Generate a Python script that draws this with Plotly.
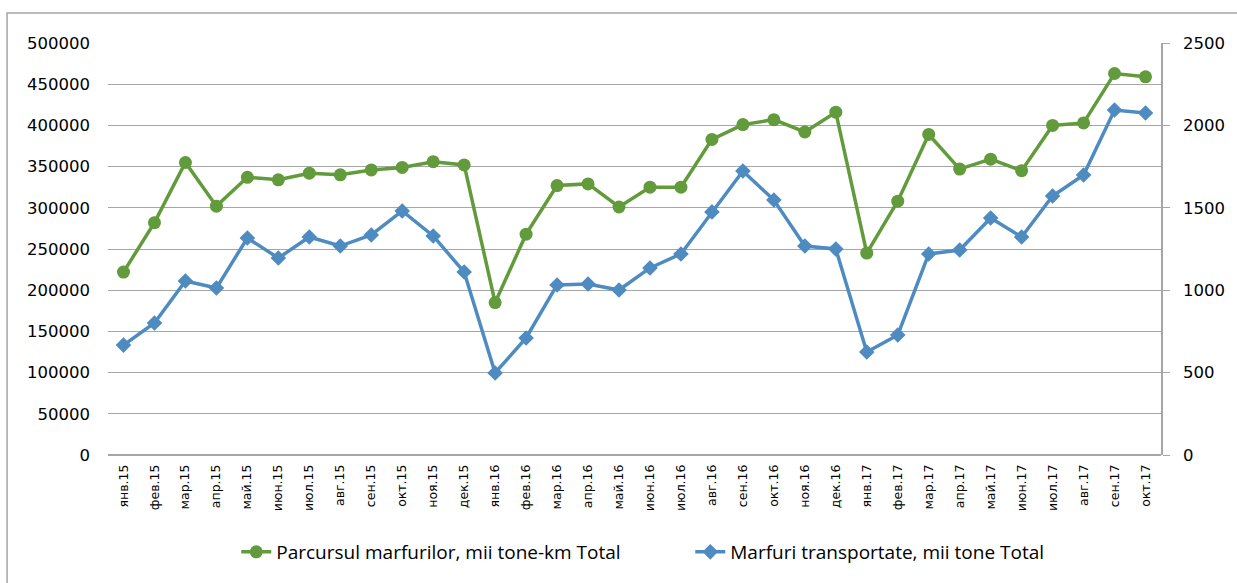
import plotly.graph_objects as go

months = ["янв.15","фев.15","мар.15","апр.15","май.15","июн.15","июл.15","авг.15","сен.15","окт.15","ноя.15","дек.15",
          "янв.16","фев.16","мар.16","апр.16","май.16","июн.16","июл.16","авг.16","сен.16","окт.16","ноя.16","дек.16",
          "янв.17","фев.17","мар.17","апр.17","май.17","июн.17","июл.17","авг.17","сен.17","окт.17"]

parcursul = [222000, 282000, 355000, 302000, 337000, 334000, 342000, 340000, 346000, 349000, 356000, 352000,
             185000, 268000, 327000, 329000, 301000, 325000, 325000, 383000, 401000, 407000, 392000, 416000,
             245000, 308000, 389000, 347000, 359000, 345000, 400000, 403000, 463000, 459000]

marfuri = [667, 801, 1056, 1013, 1317, 1195, 1323, 1268, 1335, 1481, 1329, 1110,
           498, 710, 1032, 1038, 1001, 1135, 1220, 1475, 1723, 1547, 1268, 1250,
           625, 728, 1220, 1244, 1438, 1323, 1572, 1699, 2093, 2075]

left_ticks = list(range(0, 500001, 50000))
right_ticks = list(range(0, 2501, 500))

GREEN = "#629B3C"
BLUE = "#4E8BC1"
GRID = "#A6A6A6"

W, H = 1237, 583
L, R, T, B = 108, 1167, 43, 455  # plot area in page pixels
PW, PH = R - L, B - T

def px(x):
    return (x - L) / PW

def py(y):
    return (B - y) / PH

fig = go.Figure()
fig.add_trace(go.Scatter(
    x=months, y=parcursul, name="Parcursul marfurilor, mii tone-km Total",
    mode="lines+markers", line=dict(color=GREEN, width=3.5),
    marker=dict(symbol="circle", size=13, color=GREEN), yaxis="y"))
fig.add_trace(go.Scatter(
    x=months, y=marfuri, name="Marfuri transportate, mii tone Total",
    mode="lines+markers", line=dict(color=BLUE, width=3.5),
    marker=dict(symbol="diamond", size=12, color=BLUE), yaxis="y2"))

fig.update_layout(
    width=W, height=H,
    margin=dict(l=L, r=W - R, t=T, b=H - B),
    paper_bgcolor="white", plot_bgcolor="white",
    font=dict(family="DejaVu Sans", color="#000000"),
    showlegend=True,
    legend=dict(orientation="h", x=px(237), xanchor="left", y=py(552), yanchor="middle",
                font=dict(family="Open Sans, Liberation Sans", size=19),
                entrywidth=409, entrywidthmode="pixels", traceorder="normal",
                bgcolor="rgba(0,0,0,0)"),
    xaxis=dict(type="category", tickangle=-90, tickfont=dict(size=12.5, family="DejaVu Sans"),
               showgrid=False, showline=False, ticks="", zeroline=False, range=[-0.5, 33.5],
               ticklabelstandoff=6),
    yaxis=dict(range=[0, 500000], tickvals=left_ticks, ticktext=[str(v) for v in left_ticks],
               showgrid=True, gridcolor=GRID, gridwidth=1, showline=False, ticks="",
               zeroline=True, zerolinecolor=GRID, zerolinewidth=1.5,
               tickfont=dict(size=16.5, family="DejaVu Sans"), ticklabelstandoff=17),
    yaxis2=dict(range=[0, 2500], tickvals=right_ticks, ticktext=[str(v) for v in right_ticks],
                overlaying="y", side="right", showgrid=False, showline=True, linecolor=GRID, linewidth=1.5,
                ticks="outside", ticklen=7, tickcolor=GRID, zeroline=False,
                tickfont=dict(size=16.5, family="DejaVu Sans"), ticklabelstandoff=10),
)

# outer chart border (left and top edges visible)
fig.add_shape(type="rect", xref="paper", yref="paper",
              x0=px(6.5), x1=px(1260), y0=py(620), y1=py(13),
              line=dict(color="#A6A6A6", width=1.5), fillcolor="rgba(0,0,0,0)", layer="below")

fig.write_html("out.html", config={"displayModeBar": False},
               post_script="document.body.style.margin='0';document.body.style.overflow='hidden';")
